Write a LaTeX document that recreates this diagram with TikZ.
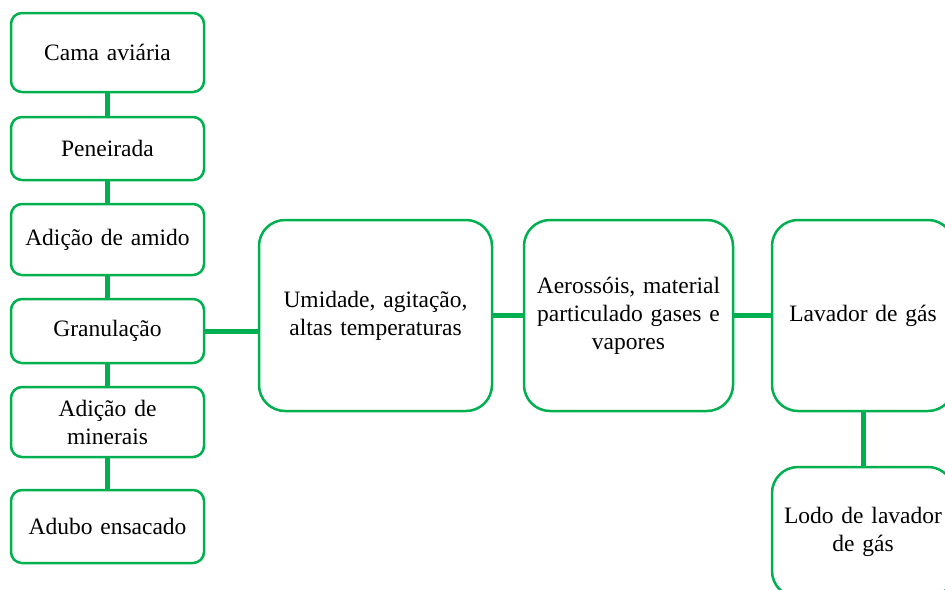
\documentclass[tikz,border=0pt]{standalone}
\usepackage{fontspec}
\setmainfont{Liberation Serif}
\definecolor{boxgreen}{HTML}{00B050}
\begin{document}
\begin{tikzpicture}[x=1pt,y=-1pt,
  every node/.style={font=\fontsize{23.5}{28}\selectfont},
  smallbox/.style={draw=boxgreen, line width=2.5pt, rounded corners=11pt, fill=white,
    minimum width=193pt, text width=180pt, align=center, inner sep=0pt},
  bigbox/.style={draw=boxgreen, line width=2.5pt, rounded corners=26pt, fill=white,
    minimum height=191pt, align=center, inner sep=0pt},
  link/.style={draw=boxgreen, line width=5pt}]
\useasboundingbox (0,0) rectangle (945,589);
\clip (0,0) rectangle (945,589);
\node[smallbox, minimum height=79pt] (b1) at (107.5,52.5) {Cama aviária};
\node[smallbox, minimum height=63pt] (b2) at (107.5,148.5) {Peneirada};
\node[smallbox, minimum height=71pt] (b3) at (107.5,239.5) {Adição de amido};
\node[smallbox, minimum height=64pt] (b4) at (107.5,331) {Granulação};
\node[smallbox, minimum height=70pt] (b5) at (107.5,422) {Adição de\\minerais};
\node[smallbox, minimum height=73pt] (b6) at (107.5,526.5) {Adubo ensacado};
\node[bigbox, minimum width=233pt, text width=220pt] (u) at (375.5,315.5) {Umidade, agitação,\\altas temperaturas};
\node[bigbox, minimum width=209pt, text width=200pt] (a) at (628.5,315.5) {Aerossóis, material\\particulado gases e\\vapores};
\node[bigbox, minimum width=182pt, text width=176pt] (l) at (863,315.5) {Lavador de gás};
\node[bigbox, minimum width=182pt, minimum height=130pt, text width=176pt] (d) at (863,532) {Lodo de lavador\\de gás};
\begin{scope}[on background layer/.style={}]
\end{scope}
\path[link] (b1.south) -- (b2.north);
\path[link] (b2.south) -- (b3.north);
\path[link] (b3.south) -- (b4.north);
\path[link] (b4.south) -- (b5.north);
\path[link] (b5.south) -- (b6.north);
\path[link] (b4.east) -- (b4.east -| u.west);
\path[link] (u.east) -- (a.west);
\path[link] (a.east) -- (l.west);
\path[link] (l.south) -- (d.north);
\end{tikzpicture}
\end{document}
